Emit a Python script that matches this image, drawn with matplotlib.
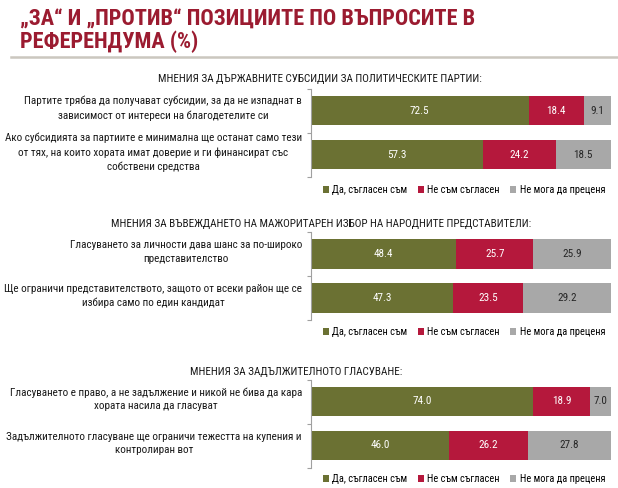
import matplotlib
matplotlib.use("Agg")
import matplotlib.pyplot as plt
from matplotlib.patches import Patch
from matplotlib.lines import Line2D

W, H = 618, 488
DPI = 100

NARROW = ['Roboto Condensed', 'DejaVu Sans']

main_title = "„ЗА“ И „ПРОТИВ“ ПОЗИЦИИТЕ ПО ВЪПРОСИТЕ В\nРЕФЕРЕНДУМА (%)"

series_names = ["Да, съгласен съм", "Не съм съгласен", "Не мога да преценя"]
colors = ["#6b7133", "#b5183c", "#a8a8a8"]
text_colors = ["white", "white", "#262626"]

panel_titles = [
    "МНЕНИЯ ЗА ДЪРЖАВНИТЕ СУБСИДИИ ЗА ПОЛИТИЧЕСКИТЕ ПАРТИИ:",
    "МНЕНИЯ ЗА ВЪВЕЖДАНЕТО НА МАЖОРИТАРЕН ИЗБОР НА НАРОДНИТЕ ПРЕДСТАВИТЕЛИ:",
    "МНЕНИЯ ЗА ЗАДЪЛЖИТЕЛНОТО ГЛАСУВАНЕ:",
]

labels_1 = [
    "Партите трябва да получават субсидии, за да не изпаднат в\nзависимост от интереси на благодетелите си",
    "Ако субсидията за партиите е минимална ще останат само тези\nот тях, на които хората имат доверие и ги финансират със\nсобствени средства",
]
agree_1 = [72.5, 57.3]
disagree_1 = [18.4, 24.2]
unsure_1 = [9.1, 18.5]

labels_2 = [
    "Гласуването за личности дава шанс за по-широко\nпредставителство",
    "Ще ограничи представителството, защото от всеки район ще се\nизбира само по един кандидат",
]
agree_2 = [48.4, 47.3]
disagree_2 = [25.7, 23.5]
unsure_2 = [25.9, 29.2]

labels_3 = [
    "Гласуването е право, а не задължение и никой не бива да кара\nхората насила да гласуват",
    "Задължителното гласуване ще ограничи тежестта на купения и\nконтролиран вот",
]
agree_3 = [74.0, 46.0]
disagree_3 = [18.9, 26.2]
unsure_3 = [7.0, 27.8]

panels = [
    (panel_titles[0], labels_1, [agree_1, disagree_1, unsure_1]),
    (panel_titles[1], labels_2, [agree_2, disagree_2, unsure_2]),
    (panel_titles[2], labels_3, [agree_3, disagree_3, unsure_3]),
]

# layout in pixels: (axis top, axis bottom, title y, title x center, legend y)
layout = [
    (88.5, 176.5, 79, 320, 190),
    (232, 320, 224, 321, 332),
    (379.5, 467.5, 372, 296, 479),
]

fig = plt.figure(figsize=(W / DPI, H / DPI), dpi=DPI)
fig.patch.set_facecolor("white")

def fx(px):
    return px / W

def fy(py):
    return 1 - py / H

fig.text(fx(20), fy(31), main_title, ha="left", va="center",
         fontsize=16, fontweight="bold", color="#9b1b30",
         family=NARROW, linespacing=1.0)
fig.add_artist(Line2D([fx(11), fx(618)], [fy(57), fy(57)], color="#cbc7bf", lw=1.8))

ax_left, ax_right = 311, 611

for (ptitle, labels, vals), (top, bot, ty, tx, ly) in zip(panels, layout):
    ax = fig.add_axes([fx(ax_left), fy(bot), fx(ax_right - ax_left), (bot - top) / H])
    n = len(labels)
    ypos = list(range(n))
    left = [0.0] * n
    for si, (name, col, tcol) in enumerate(zip(series_names, colors, text_colors)):
        v = vals[si]
        ax.barh(ypos, v, left=left, height=0.68, color=col, label=name)
        for yi, (vi, li) in enumerate(zip(v, left)):
            ax.text(li + vi / 2, yi, f"{vi:.1f}", ha="center", va="center",
                    color=tcol, fontsize=8, family=NARROW)
        left = [a + b for a, b in zip(left, v)]
    ax.set_xlim(0, 100)
    ax.set_ylim(n - 0.5, -0.5)
    ax.set_yticks([-0.5, 0.5, 1.5])
    ax.set_yticklabels([])
    ax.tick_params(axis="y", length=3, color="#a0a0a0", width=0.8, direction="out")
    ax.set_xticks([])
    for s in ["top", "right", "bottom"]:
        ax.spines[s].set_visible(False)
    ax.spines["left"].set_color("#a0a0a0")
    ax.spines["left"].set_linewidth(0.8)
    for yi, lab in enumerate(labels):
        ax.text(-3.0, yi - 0.05, lab, ha="right", va="center", multialignment="center",
                fontsize=8, family=NARROW, color="#1a1a1a", linespacing=1.45,
                transform=ax.transData, clip_on=False)
    fig.text(fx(tx), fy(ty), ptitle, ha="center", va="center", fontsize=8,
             family=NARROW, color="#1a1a1a")
    handles = [Patch(facecolor=c, edgecolor="none") for c in colors]
    fig.legend(handles, series_names, loc="center right",
               bbox_to_anchor=(fx(605), fy(ly)), ncol=3, frameon=False,
               handlelength=0.6, handleheight=0.6, handletextpad=0.3,
               columnspacing=1.0, borderpad=0, borderaxespad=0,
               prop={"family": NARROW, "size": 7.5})

fig.savefig("out.png", dpi=DPI, facecolor="white")
